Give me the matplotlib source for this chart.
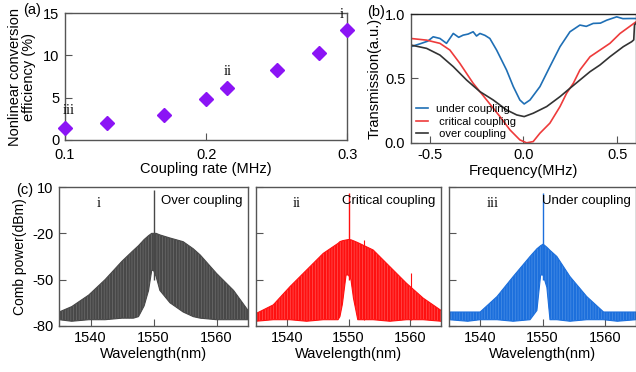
import matplotlib
matplotlib.use("Agg")
import matplotlib.pyplot as plt

plt.rcParams['font.family'] = ['Liberation Sans', 'DejaVu Sans']
plt.rcParams['font.size'] = 10.5
plt.rcParams['axes.unicode_minus'] = False
plt.rcParams['hatch.linewidth'] = 0.5

# (a) conversion efficiency vs coupling rate
coupling_rate = [0.10, 0.13, 0.17, 0.20, 0.215, 0.25, 0.28, 0.30]
efficiency = [1.4, 2.0, 2.9, 4.8, 6.1, 8.3, 10.3, 13.0]
point_tags = [(0.103, 2.7, 'iii'), (0.215, 7.3, 'ii'), (0.296, 14.0, 'i')]

# (b) transmission spectra
under_f = [-0.6, -0.55, -0.51, -0.481, -0.445, -0.41, -0.374, -0.345, -0.321, -0.295, -0.268,
           -0.25, -0.232, -0.205, -0.179, -0.143, -0.09, -0.054, -0.019, 0.004, 0.035, 0.088,
           0.141, 0.195, 0.248, 0.301, 0.335, 0.372, 0.41, 0.444, 0.497, 0.53, 0.568, 0.6]
under_t = [0.747, 0.77, 0.79, 0.824, 0.811, 0.773, 0.85, 0.82, 0.837, 0.845, 0.863,
           0.83, 0.85, 0.835, 0.811, 0.721, 0.566, 0.437, 0.333, 0.302, 0.333, 0.437,
           0.592, 0.747, 0.863, 0.915, 0.905, 0.928, 0.93, 0.953, 0.979, 0.965, 0.966, 0.966]
crit_f = [-0.6, -0.516, -0.445, -0.392, -0.339, -0.268, -0.196, -0.125, -0.072, -0.019, 0.017,
          0.052, 0.088, 0.141, 0.195, 0.23, 0.266, 0.301, 0.355, 0.408, 0.461, 0.515, 0.6]
crit_t = [0.811, 0.798, 0.773, 0.721, 0.618, 0.463, 0.333, 0.204, 0.101, 0.023, 0.0,
          0.01, 0.075, 0.153, 0.282, 0.385, 0.463, 0.566, 0.669, 0.721, 0.773, 0.85, 0.94]
over_f = [-0.6, -0.516, -0.445, -0.374, -0.303, -0.232, -0.161, -0.09, -0.036, 0.004, 0.052,
          0.124, 0.195, 0.248, 0.301, 0.355, 0.408, 0.461, 0.532, 0.577, 0.588, 0.592, 0.6]
over_t = [0.76, 0.734, 0.682, 0.592, 0.488, 0.398, 0.333, 0.256, 0.217, 0.204, 0.23,
          0.282, 0.359, 0.424, 0.488, 0.553, 0.605, 0.669, 0.747, 0.786, 0.80, 0.915, 0.93]

# (c) comb spectra envelopes (upper / lower edges of the comb, dBm)
over_wl = [1535, 1537, 1539.7, 1542.3, 1545, 1546.8, 1547.6, 1548.5, 1549.2, 1549.7, 1550,
           1550.4, 1551, 1552.6, 1554.7, 1556.3, 1557.4, 1560, 1562.7, 1565]
over_hi = [-71, -67.5, -60, -50, -38, -31, -28, -24, -21.5, -20, -20,
           -20, -21, -23, -25.4, -30, -34, -46, -57, -70]
over_lo = [-76, -77, -76, -76, -75, -75, -74, -67, -57, -44, -44,
           -48, -57, -65, -71, -74, -75, -76, -76, -76]
crit_wl = [1535, 1537.8, 1540.5, 1543.2, 1545.9, 1548.3, 1548.6, 1549, 1549.6, 1550,
           1550.4, 1550.8, 1551.5, 1554, 1556.7, 1559.4, 1562.1, 1565]
crit_hi = [-72, -66.4, -54.6, -43.8, -33, -26.5, -25.4, -24.8, -24.3, -24,
           -24.2, -24.8, -26, -30.8, -41.6, -52.4, -62, -70]
crit_lo = [-77, -76, -76, -77, -76, -76, -74, -66, -47, -47,
           -50, -62, -76, -76, -77, -76, -76, -77]
under_wl = [1535, 1538, 1540, 1542.7, 1545.3, 1548, 1549.1, 1549.7, 1550.1,
            1550.7, 1551.2, 1552.3, 1554.4, 1557.1, 1559.8, 1562, 1565]
under_hi = [-71, -71, -71, -61, -48, -35, -30, -28, -27,
            -29, -31, -35, -48, -61, -71, -71, -71]
under_lo = [-76, -77, -76, -76, -77, -76, -70, -47, -47,
            -55, -76, -76, -77, -76, -76, -77, -76]
pump_wl = 1550
pump_top = [8, 6, 6]
extra_spikes = [(1552.5, -24), (1560.2, -46)]   # on the critical-coupling trace

fig = plt.figure(figsize=(6.36, 3.72), dpi=100)

def style(ax):
    for s in ax.spines.values():
        s.set_color('#555555')
        s.set_linewidth(1.0)
    ax.tick_params(direction='in', length=5, color='#555555', labelsize=10.5, pad=4)

# ---- (a)
axa = fig.add_axes([0.102, 0.624, 0.444, 0.341])
axa.plot(coupling_rate, efficiency, 'D', color='#8b14f5', ms=7, clip_on=False, zorder=3)
for x, y, t in point_tags:
    axa.text(x, y, t, family=['Liberation Serif'], fontsize=10.5, ha='center', va='bottom')
axa.set_xlim(0.1, 0.3)
axa.set_ylim(0, 15)
axa.set_xticks([0.1, 0.2, 0.3])
axa.set_yticks([0, 5, 10, 15])
style(axa)
axa.tick_params(axis='x', pad=6)
axa.set_xlabel('Coupling rate (MHz)', labelpad=0)
# two-line y label, one text per line
fig.text(0.023, 0.793, 'Nonlinear conversion', rotation=90, ha='center', va='center')
fig.text(0.045, 0.793, 'efficiency (%)', rotation=90, ha='center', va='center')
fig.text(0.064, 0.972, '(a)', fontsize=10.5, va='center', ha='right')

# ---- (b)
axb = fig.add_axes([0.646, 0.616, 0.354, 0.346])
axb.plot(under_f, under_t, color='#1f6fb5', lw=1.2, label='under coupling')
axb.plot(crit_f, crit_t, color='#ee3b3b', lw=1.2, label=' critical coupling')
axb.plot(over_f, over_t, color='#333333', lw=1.2, label=' over coupling')
axb.set_xlim(-0.6, 0.6)
axb.set_ylim(0, 1)
axb.set_xticks([-0.5, 0.0, 0.5])
axb.set_yticks([0.0, 0.5, 1.0])
axb.set_xlabel('Frequency(MHz)', labelpad=1)
axb.set_ylabel('Transmission(a.u.)', labelpad=2)
style(axb)
axb.spines['top'].set_color('#222222')
axb.legend(loc='lower left', frameon=False, fontsize=8, handlelength=1.1,
           handletextpad=0.7, labelspacing=0.22, borderaxespad=0.05,
           bbox_to_anchor=(0.0, -0.01))
fig.text(0.606, 0.968, '(b)', fontsize=10.5, va='center', ha='right')

# ---- (c)
comb_sets = [
    (over_wl, over_hi, over_lo, '#484848', '#6e6e6e', 'i', 'Over coupling'),
    (crit_wl, crit_hi, crit_lo, '#ff1010', '#ff5555', 'ii', 'Critical coupling'),
    (under_wl, under_hi, under_lo, '#1c6fdc', '#4b8fe6', 'iii', 'Under coupling'),
]
boxes = [[0.093, 0.124, 0.297, 0.373],
         [0.4025, 0.124, 0.291, 0.373],
         [0.706, 0.124, 0.294, 0.373]]
for i, (wl, hi, lo, col, light, tag, name) in enumerate(comb_sets):
    ax = fig.add_axes(boxes[i])
    ax.fill_between(wl, lo, hi, facecolor=col, edgecolor=light, hatch='||||||', lw=0)
    ax.plot(wl, hi, color=col, lw=0.8)
    ax.plot(wl, lo, color=col, lw=0.8)
    ax.vlines(pump_wl, -50, pump_top[i], color=col, lw=1.0)
    if i == 1:
        for sx, sy in extra_spikes:
            ax.vlines(sx, -76, sy, color=col, lw=0.8)
    ax.text(0.2, 0.93, tag, transform=ax.transAxes, family=['Liberation Serif'],
            fontsize=10.5, va='top')
    ax.text(0.97, 0.94, name, transform=ax.transAxes, fontsize=9.5, ha='right', va='top')
    ax.set_xlim(1535, 1565)
    ax.set_ylim(-80, 10)
    ax.set_xticks([1540, 1550, 1560])
    ax.set_yticks([10, -20, -50, -80])
    ax.set_xlabel('Wavelength(nm)', labelpad=1)
    style(ax)
    if i == 0:
        ax.set_ylabel('Comb power(dBm)', fontsize=10, labelpad=4)
    else:
        ax.tick_params(labelleft=False)
fig.text(0.025, 0.488, '(c)', fontsize=10.5, va='center')

fig.savefig('out.png', dpi=100)
